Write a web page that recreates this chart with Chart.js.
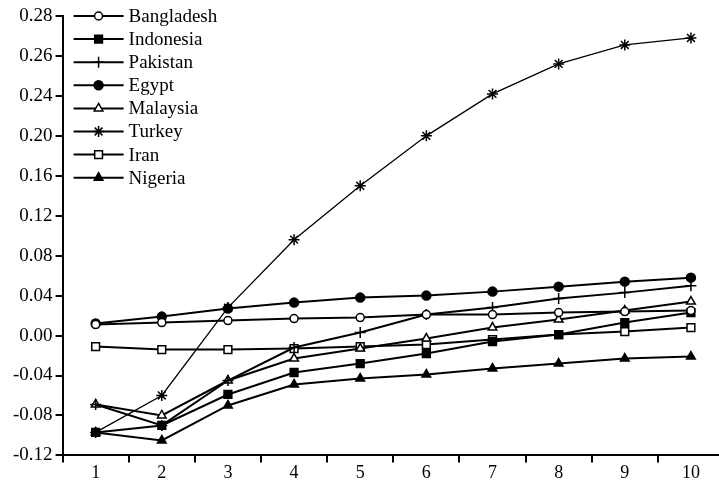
<!DOCTYPE html>
<html>
<head>
<meta charset="utf-8">
<script src="https://cdn.jsdelivr.net/npm/chart.js@4/dist/chart.umd.min.js"></script>
<style>
html, body { margin: 0; padding: 0; background: #fff; overflow: hidden; }
</style>
</head>
<body>
<!-- a bit wider than the window: the source plot runs off its right edge -->
<canvas id="myCanvas" width="731" height="487"></canvas>
<script>
var periods = ['1', '2', '3', '4', '5', '6', '7', '8', '9', '10'];
// the source axis is evenly spaced but labelled like this (bottom to top)
var yTickLabels = ['-0.12', '-0.08', '-0.04', '0.00', '0.04', '0.08', '0.12', '0.16', '0.20', '0.24', '0.26', '0.28'];

var bangladesh = [0.011, 0.013, 0.015, 0.017, 0.018, 0.021, 0.021, 0.023, 0.024, 0.025];
var indonesia = [-0.097, -0.090, -0.059, -0.037, -0.028, -0.018, -0.006, 0.001, 0.013, 0.023];
var pakistan = [-0.069, -0.090, -0.045, -0.012, 0.003, 0.021, 0.028, 0.037, 0.043, 0.050];
var egypt = [0.012, 0.019, 0.027, 0.033, 0.038, 0.040, 0.044, 0.049, 0.054, 0.058];
var malaysia = [-0.069, -0.080, -0.045, -0.023, -0.013, -0.003, 0.008, 0.016, 0.025, 0.034];
var turkey = [-0.097, -0.060, 0.028, 0.096, 0.150, 0.200, 0.242, 0.272, 0.291, 0.298];
var iran = [-0.011, -0.014, -0.014, -0.013, -0.011, -0.009, -0.004, 0.001, 0.004, 0.008];
var nigeria = [-0.097, -0.105, -0.070, -0.049, -0.043, -0.039, -0.033, -0.028, -0.023, -0.021];

function MakeSeries(label, values, style, fill, radius, width) {
    return {
        label: label,
        data: values,
        borderColor: '#000',
        borderWidth: width || 2,
        pointStyle: style,
        pointRadius: radius,
        pointBorderWidth: 1.5,
        pointBorderColor: '#000',
        pointBackgroundColor: fill,
        tension: 0
    };
}

// legend drawn as line + marker, the way the source has it
var lineLegend = {
    id: 'lineLegend',
    afterDraw: function (chart) {
        var ctx = chart.ctx;
        var area = chart.chartArea;
        chart.data.datasets.forEach(function (ds, i) {
            var y = area.top + i * 23.1;
            var x0 = area.left + 11, x1 = area.left + 61;
            ctx.save();
            ctx.strokeStyle = '#000';
            ctx.lineWidth = 2;
            ctx.beginPath();
            ctx.moveTo(x0, y);
            ctx.lineTo(x1, y);
            ctx.stroke();
            ctx.fillStyle = ds.pointBackgroundColor;
            ctx.lineWidth = 1.5;
            Chart.helpers.drawPoint(ctx, { pointStyle: ds.pointStyle, radius: ds.pointRadius, borderWidth: 1.5 }, (x0 + x1) / 2, y);
            ctx.fillStyle = '#000';
            ctx.font = '19px "Liberation Serif"';
            ctx.textBaseline = 'middle';
            ctx.textAlign = 'left';
            ctx.fillText(ds.label, x1 + 5, y + 1);
            ctx.restore();
        });
    }
};

var ctx = document.getElementById('myCanvas').getContext('2d');
var myChart = new Chart(ctx, {
    type: 'line',
    data: {
        labels: periods,
        datasets: [
            MakeSeries('Bangladesh', bangladesh, 'circle', '#fff', 4),
            MakeSeries('Indonesia', indonesia, 'rect', '#000', 5.5),
            MakeSeries('Pakistan', pakistan, 'cross', '#000', 5.5),
            MakeSeries('Egypt', egypt, 'circle', '#000', 4.5),
            MakeSeries('Malaysia', malaysia, 'triangle', '#fff', 5),
            MakeSeries('Turkey', turkey, 'star', '#000', 5.5, 1.3),
            MakeSeries('Iran', iran, 'rect', '#fff', 5.5),
            MakeSeries('Nigeria', nigeria, 'triangle', '#000', 5)
        ]
    },
    options: {
        responsive: false,
        animation: false,
        layout: { padding: { left: 10, top: 16, right: 0, bottom: 3 } },
        plugins: {
            legend: { display: false },
            tooltip: { enabled: false }
        },
        scales: {
            x: {
                offset: true,
                grid: { offset: true, drawOnChartArea: false, color: '#000', tickLength: 7, lineWidth: 2 },
                border: { color: '#000', width: 2 },
                ticks: { color: '#000', font: { family: 'Liberation Serif', size: 18 }, padding: 0, maxRotation: 0 }
            },
            y: {
                min: -0.12,
                max: 0.32,
                grid: { drawOnChartArea: false, color: '#000', tickLength: 7, lineWidth: 2 },
                border: { color: '#000', width: 2 },
                ticks: {
                    stepSize: 0.04,
                    color: '#000',
                    font: { family: 'Liberation Serif', size: 19 },
                    padding: 3,
                    callback: function (value, index) { return yTickLabels[index]; }
                }
            }
        }
    },
    plugins: [lineLegend]
});
</script>
</body>
</html>
